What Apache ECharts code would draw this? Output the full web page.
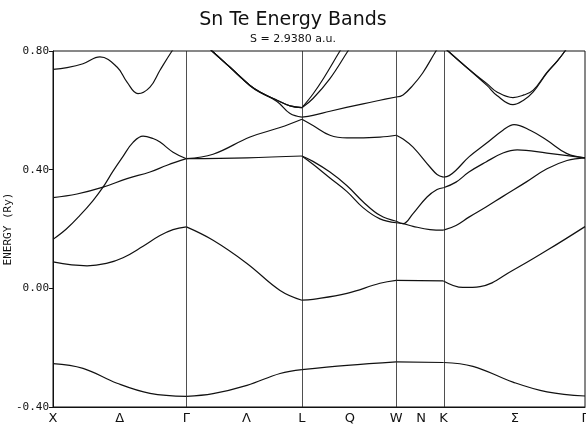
<!DOCTYPE html>
<html>
<head>
<meta charset="utf-8">
<title>Sn Te Energy Bands</title>
<script src="https://cdn.jsdelivr.net/npm/echarts@6/dist/echarts.min.js"></script>
<style>html,body{margin:0;padding:0;background:#fff}</style>
</head>
<body>
<div id="chart" style="width:586px;height:427px"></div>
<script>
// k-path distance in units of 2pi/a : X - Gamma - L - W - K - Gamma
const symPos = [0, 1, 1.866, 2.573, 2.927, 3.988];
const labelPos = [0, 0.5, 1, 1.45, 1.866, 2.226, 2.573, 2.759, 2.927, 3.463, 3.988];
const labelText = ['X', 'Δ', 'Γ', 'Λ', 'L', 'Q', 'W', 'N', 'K', 'Σ', 'Γ'];

// bands as [k, E(Ry)]
const band1 = [[0,-0.254],[0.225,-0.27],[0.48,-0.32],[0.727,-0.354],[1,-0.364],[1.2,-0.355],[1.454,-0.327],[1.702,-0.287],[1.866,-0.274],[2.204,-0.26],[2.573,-0.248],[2.927,-0.25],[3.148,-0.263],[3.448,-0.316],[3.703,-0.349],[3.988,-0.363]];
const band2 = [[0,0.089],[0.255,0.076],[0.4,0.084],[0.525,0.103],[0.675,0.142],[0.802,0.178],[0.9,0.198],[1,0.207],[1.2,0.162],[1.454,0.084],[1.702,-0.007],[1.866,-0.04],[1.949,-0.037],[2.204,-0.017],[2.451,0.017],[2.573,0.027],[2.927,0.025],[3.073,0.003],[3.201,0.006],[3.448,0.061],[3.703,0.128],[3.988,0.208]];
const band3 = [[0,0.165],[0.1,0.2],[0.2,0.245],[0.3,0.296],[0.375,0.341],[0.45,0.395],[0.525,0.445],[0.6,0.492],[0.675,0.513],[0.75,0.505],[0.802,0.493],[0.9,0.459],[1,0.437],[1.2,0.452],[1.477,0.51],[1.702,0.542],[1.866,0.570],[1.949,0.549],[2.076,0.516],[2.204,0.507],[2.451,0.510],[2.573,0.516],[2.624,0.503],[2.699,0.476],[2.826,0.409],[2.879,0.384],[2.927,0.375],[2.97,0.38],[3.021,0.398],[3.118,0.443],[3.246,0.488],[3.373,0.533],[3.456,0.552],[3.58,0.532],[3.703,0.499],[3.853,0.454],[3.988,0.440]];
const band4 = [[0,0.306],[0.18,0.318],[0.375,0.341],[0.555,0.37],[0.727,0.392],[0.855,0.415],[1,0.437],[1.454,0.440],[1.866,0.446],[1.949,0.428],[2.076,0.392],[2.204,0.346],[2.324,0.292],[2.451,0.246],[2.573,0.226],[2.624,0.218],[2.699,0.252],[2.804,0.308],[2.879,0.333],[2.927,0.339],[3.021,0.358],[3.118,0.392],[3.246,0.426],[3.373,0.456],[3.48,0.467],[3.703,0.456],[3.988,0.440]];
const band5 = [[1.866,0.446],[1.949,0.418],[2.076,0.372],[2.204,0.326],[2.324,0.272],[2.451,0.234],[2.573,0.221],[2.624,0.218],[2.699,0.209],[2.826,0.198],[2.927,0.196],[3.021,0.212],[3.118,0.240],[3.246,0.274],[3.373,0.310],[3.546,0.358],[3.703,0.403],[3.853,0.431],[3.988,0.440]];
const band6 = [[0,0.738],[0.105,0.744],[0.225,0.757],[0.352,0.78],[0.48,0.746],[0.555,0.695],[0.637,0.656],[0.727,0.678],[0.802,0.735],[0.892,0.80],[1,0.87]];
const band7 = [[1,0.88],[1.192,0.80],[1.327,0.745],[1.477,0.684],[1.552,0.662],[1.679,0.634],[1.777,0.615],[1.866,0.609],[1.949,0.655],[2.031,0.71],[2.151,0.80],[2.25,0.87]];
const band8 = [[1,0.88],[1.192,0.80],[1.327,0.745],[1.477,0.684],[1.552,0.662],[1.679,0.634],[1.777,0.615],[1.866,0.609],[1.949,0.64],[2.076,0.707],[2.211,0.80],[2.3,0.86]];
const band9 = [[1,0.88],[1.192,0.80],[1.327,0.745],[1.477,0.683],[1.552,0.66],[1.679,0.63],[1.777,0.589],[1.866,0.577],[1.949,0.583],[2.076,0.597],[2.324,0.622],[2.451,0.634],[2.573,0.645],[2.624,0.652],[2.699,0.685],[2.77,0.725],[2.864,0.795],[2.927,0.84]];
const band10 = [[2.927,0.815],[2.961,0.80],[3.126,0.735],[3.253,0.69],[3.328,0.662],[3.448,0.643],[3.53,0.652],[3.6,0.668],[3.703,0.728],[3.778,0.765],[3.838,0.80],[3.988,0.90]];
const band11 = [[2.927,0.815],[2.961,0.80],[3.126,0.735],[3.253,0.684],[3.328,0.65],[3.448,0.619],[3.53,0.635],[3.6,0.662],[3.703,0.726],[3.778,0.765],[3.838,0.80],[3.988,0.90]];

const bands = [band1, band2, band3, band4, band5, band6, band7, band8, band9, band10, band11];

// cut each band at the symmetry points so the kinks stay sharp
function splitBand(band) {
  const segs = [];
  for (let i = 0; i < symPos.length - 1; i++) {
    const a = symPos[i], b = symPos[i + 1];
    const seg = band.filter(p => p[0] >= a - 1e-6 && p[0] <= b + 1e-6);
    if (seg.length > 1) segs.push(seg);
  }
  return segs;
}

const series = [];
bands.forEach(b => {
  splitBand(b).forEach(seg => {
    series.push({
      type: 'line',
      data: seg,
      smooth: 0.4,
      symbol: 'none',
      silent: true,
      clip: true,
      lineStyle: {color: '#111', width: 1.2}
    });
  });
});
// vertical lines at the symmetry points
series.push({
  type: 'line',
  data: [],
  silent: true,
  markLine: {
    symbol: 'none',
    silent: true,
    label: {show: false},
    lineStyle: {color: '#222', width: 0.8, type: 'solid'},
    data: symPos.slice(1, -1).map(v => ({xAxis: v}))
  }
});

const chart = echarts.init(document.getElementById('chart'));
chart.setOption({
  animation: false,
  title: {
    text: 'Sn Te Energy Bands',
    subtext: 'S = 2.9380 a.u.',
    left: 'center',
    top: 6,
    padding: [5, 8, 5, 0],
    itemGap: 4,
    textStyle: {fontFamily: 'DejaVu Sans', fontSize: 19, fontWeight: 'normal', color: '#111'},
    subtextStyle: {fontFamily: 'DejaVu Sans', fontSize: 11, color: '#111'}
  },
  grid: {
    left: 53, right: 1, top: 51, bottom: 20,
    outerBoundsMode: 'none',
    containLabel: false,
    show: true, borderColor: '#111', borderWidth: 1
  },
  xAxis: {
    type: 'value',
    min: 0,
    max: symPos[symPos.length - 1],
    axisLine: {show: true, onZero: false, lineStyle: {color: '#111'}},
    axisTick: {show: false},
    splitLine: {show: false},
    axisLabel: {
      customValues: labelPos,
      showMinLabel: true,
      showMaxLabel: true,
      margin: 5,
      fontFamily: 'DejaVu Sans',
      fontSize: 13,
      color: '#111',
      formatter: v => {
        const i = labelPos.findIndex(p => Math.abs(p - v) < 1e-6);
        return i >= 0 ? labelText[i] : '';
      }
    }
  },
  yAxis: {
    type: 'value',
    min: -0.4,
    max: 0.8,
    interval: 0.4,
    name: 'ENERGY (Ry)',
    nameLocation: 'middle',
    nameRotate: 90,
    nameGap: 39,
    nameMoveOverlap: false,
    nameTextStyle: {fontFamily: 'DejaVu Sans Mono', fontSize: 11, color: '#111'},
    axisLine: {show: true, onZero: false, lineStyle: {color: '#111'}},
    axisTick: {show: true, length: 4, lineStyle: {color: '#111'}},
    splitLine: {show: false},
    axisLabel: {
      margin: 4,
      fontFamily: 'DejaVu Sans Mono',
      fontSize: 11,
      color: '#111',
      formatter: v => v.toFixed(2)
    }
  },
  series: series
});
</script>
</body>
</html>
